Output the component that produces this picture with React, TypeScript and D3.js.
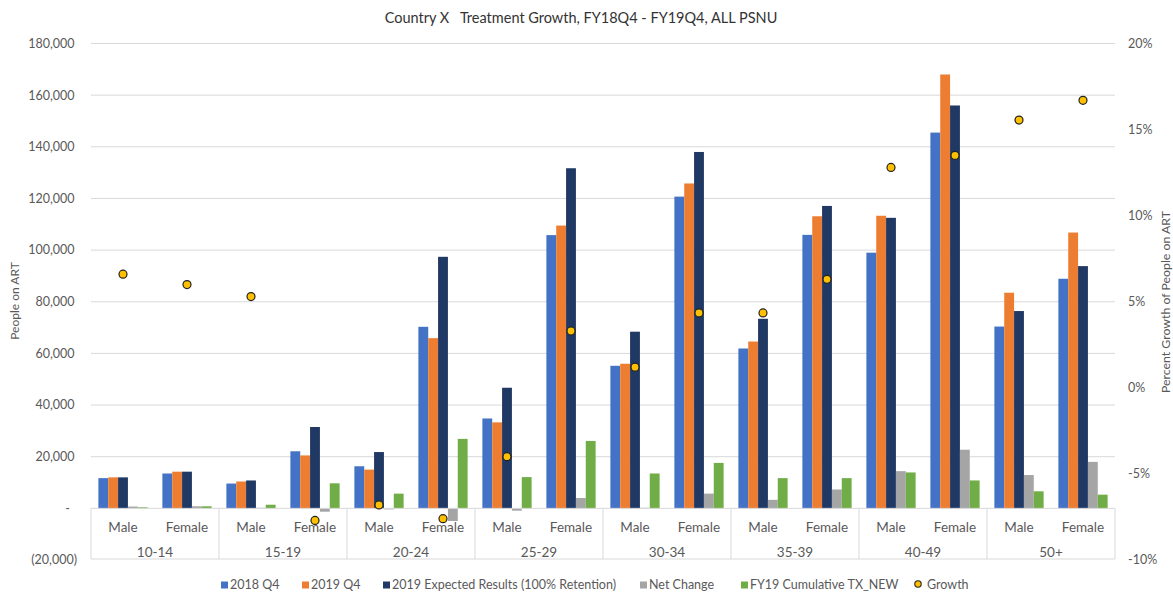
import React from "react";
import * as d3 from "d3";

const ages = ["10-14", "15-19", "20-24", "25-29", "30-34", "35-39", "40-49", "50+"];
const sexes = ["Male", "Female"];

const q42018 = [11700, 13500, 9600, 22100, 16300, 70300, 34800, 105800, 55200, 120700, 61900, 105900, 99000, 145500, 70400, 88900];
const q42019 = [12000, 14200, 10400, 20500, 15000, 65900, 33300, 109500, 56000, 125800, 64600, 113100, 113300, 168000, 83500, 106800];
const expected = [12000, 14200, 10800, 31500, 21800, 97400, 46700, 131700, 68400, 138000, 73400, 117100, 112500, 156000, 76400, 93800];
const netChange = [700, 800, 200, -1300, -400, -4900, -900, 4000, 200, 5700, 3300, 7300, 14400, 22700, 12900, 18000];
const txNew = [400, 800, 1400, 9700, 5700, 26900, 12100, 26100, 13500, 17600, 11700, 11700, 13900, 10800, 6600, 5300];
const growth = [6.6, 6.0, 5.3, -7.7, -6.8, -7.6, -4.0, 3.3, 1.2, 4.35, 4.35, 6.3, 12.8, 13.5, 15.55, 16.7];

const leftTicks = [-20000, 0, 20000, 40000, 60000, 80000, 100000, 120000, 140000, 160000, 180000];
const rightTicks = [-10, -5, 0, 5, 10, 15, 20];

const seriesNames = ["2018 Q4", "2019 Q4", "2019 Expected Results (100% Retention)", "Net Change", "FY19 Cumulative TX_NEW"];
const seriesValues = [q42018, q42019, expected, netChange, txNew];
const seriesColors = ["#4472C4", "#ED7D31", "#1F3864", "#A5A5A5", "#70AD47"];

const W = 1173;
const H = 593;
const font = "Lato, 'Open Sans', sans-serif";

export default function App() {
  const plotL = 91;
  const plotR = 1115;
  const plotT = 43.5;
  const plotB = 560;

  const yL = d3.scaleLinear().domain([-20000, 180000]).range([plotB, plotT]);
  const yR = d3.scaleLinear().domain([-10, 20]).range([plotB, plotT]);

  const subKeys: string[] = [];
  ages.forEach((a) => sexes.forEach((s) => subKeys.push(a + "|" + s)));
  const x0 = d3.scaleBand<string>().domain(subKeys).range([plotL, plotR]).padding(0);
  const xAge = d3.scaleBand<string>().domain(ages).range([plotL, plotR]).padding(0);
  const x1 = d3
    .scaleBand<string>()
    .domain(seriesNames)
    .range([0, x0.bandwidth()])
    .paddingInner(0)
    .paddingOuter(0.75);

  const y0 = yL(0);
  const gridColor = "#D9D9D9";
  const textColor = "#595959";

  const legendX = [221, 302, 383, 640, 741];
  const legendDotX = 918;
  const legendY = 585;

  return (
    <svg
      width={W}
      height={H}
      style={{ position: "fixed", left: 0, top: 0, display: "block", background: "#fff" }}
      fontFamily={font}
    >
      <rect x={0} y={0} width={W} height={H} fill="#fff" />
      {/* title */}
      <text x={581} y={23} textAnchor="middle" fontSize={14.5} fill="#333">
        {"Country X\u00a0\u00a0\u00a0Treatment Growth, FY18Q4 - FY19Q4, ALL PSNU"}
      </text>

      {/* gridlines */}
      {leftTicks
        .filter((t) => t > 0)
        .map((t) => (
          <line key={"g" + t} x1={plotL} x2={plotR} y1={yL(t)} y2={yL(t)} stroke={gridColor} strokeWidth={1} />
        ))}

      {/* left tick labels */}
      {leftTicks.map((t) => (
        <text
          key={"lt" + t}
          x={t === 0 ? 70 : t < 0 ? 77 : 74.5}
          y={yL(t)}
          dy="0.35em"
          textAnchor="end"
          fontSize={12.5}
          fill={textColor}
        >
          {t === 0 ? "-" : t < 0 ? "(" + d3.format(",")(-t) + ")" : d3.format(",")(t)}
        </text>
      ))}

      {/* right tick labels */}
      {rightTicks.map((t) => (
        <text key={"rt" + t} x={1128} y={yR(t)} dy="0.35em" textAnchor="start" fontSize={12.5} fill={textColor}>
          {t + "%"}
        </text>
      ))}

      {/* axis titles */}
      <text
        transform={`translate(19,${301}) rotate(-90)`}
        textAnchor="middle"
        fontSize={12}
        fill={textColor}
      >
        People on ART
      </text>
      <text
        transform={`translate(1170,${302}) rotate(-90)`}
        textAnchor="middle"
        fontSize={12.3}
        fill={textColor}
      >
        Percent Growth of People on ART
      </text>

      {/* bars */}
      {seriesNames.map((name, si) => (
        <g key={name} fill={seriesColors[si]}>
          {subKeys.map((k, i) => {
            const v = seriesValues[si][i];
            const x = (x0(k) as number) + (x1(name) as number);
            const yTop = Math.min(yL(v), y0);
            const h = Math.abs(yL(v) - y0);
            return <rect key={k} x={x} y={yTop} width={x1.bandwidth()} height={h} />;
          })}
        </g>
      ))}

      {/* zero axis line */}
      <line x1={plotL} x2={plotR} y1={y0} y2={y0} stroke={gridColor} strokeWidth={1} />

      {/* category table */}
      <line x1={plotL} x2={plotR} y1={plotB - 1} y2={plotB - 1} stroke={gridColor} strokeWidth={1} />
      {ages.map((a) => (
        <line
          key={"sep" + a}
          x1={xAge(a) as number}
          x2={xAge(a) as number}
          y1={y0}
          y2={plotB - 1}
          stroke={gridColor}
          strokeWidth={1}
        />
      ))}
      <line x1={plotR} x2={plotR} y1={y0} y2={plotB - 1} stroke={gridColor} strokeWidth={1} />

      {subKeys.map((k) => (
        <text
          key={"sl" + k}
          x={(x0(k) as number) + x0.bandwidth() / 2}
          y={527}
          dy="0.35em"
          textAnchor="middle"
          fontSize={13.5}
          fill={textColor}
        >
          {k.split("|")[1]}
        </text>
      ))}
      {ages.map((a) => (
        <text
          key={"al" + a}
          x={(xAge(a) as number) + xAge.bandwidth() / 2}
          y={552}
          dy="0.35em"
          textAnchor="middle"
          fontSize={13.5}
          fill={textColor}
        >
          {a}
        </text>
      ))}

      {/* growth dots */}
      {subKeys.map((k, i) => (
        <circle
          key={"d" + k}
          cx={(x0(k) as number) + x0.bandwidth() / 2}
          cy={yR(growth[i])}
          r={4}
          fill="#FFC000"
          stroke="#222"
          strokeWidth={1.2}
        />
      ))}

      {/* legend */}
      {seriesNames.map((name, si) => (
        <g key={"lg" + name}>
          <rect x={legendX[si]} y={legendY - 3.5} width={7} height={7} fill={seriesColors[si]} />
          <text x={legendX[si] + 9} y={legendY} dy="0.35em" fontSize={12.5} fill={textColor}>
            {name}
          </text>
        </g>
      ))}
      <circle cx={legendDotX} cy={legendY - 1} r={3.2} fill="#FFC000" stroke="#222" strokeWidth={1.1} />
      <text x={legendDotX + 9} y={legendY} dy="0.35em" fontSize={12.5} fill={textColor}>
        Growth
      </text>
    </svg>
  );
}
